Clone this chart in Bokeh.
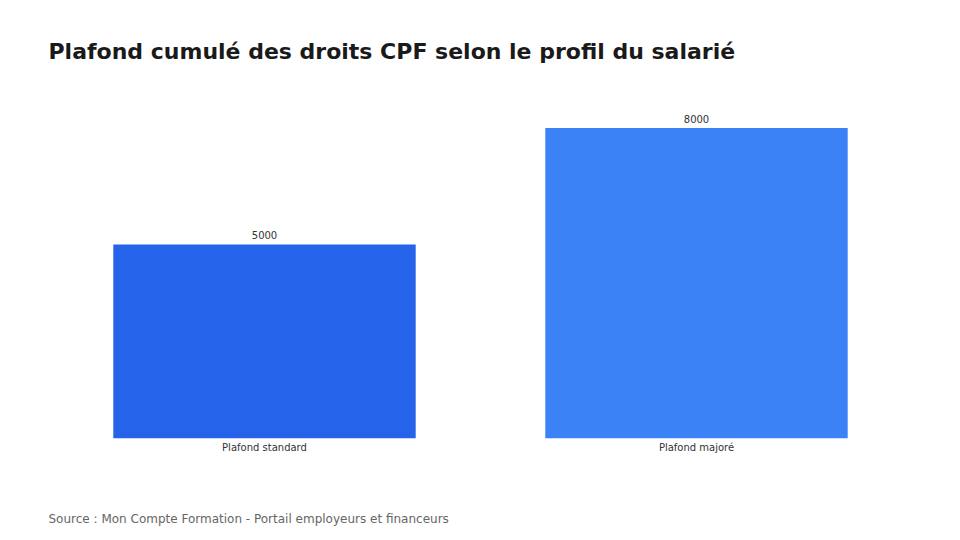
from bokeh.plotting import figure
from bokeh.models import ColumnDataSource, Title, Range1d
from bokeh.core.properties import value
from bokeh.embed import file_html
from bokeh.resources import INLINE

# data
categories = ["Plafond standard", "Plafond majoré"]
amounts = [5000, 8000]
colors = ["#2563EB", "#3B82F6"]

source = ColumnDataSource(data=dict(cat=categories, amount=amounts, color=colors,
                                    label=[str(a) for a in amounts]))

p = figure(x_range=categories, width=952, height=530,
           output_backend="svg", toolbar_location=None,
           min_border_left=48, min_border_right=40, min_border_top=82, min_border_bottom=92)
p.y_range = Range1d(0, 9170)

p.title.text = "Plafond cumulé des droits CPF selon le profil du salarié"
p.title.text_font = "DejaVu Sans"
p.title.text_font_size = "22px"
p.title.text_color = "#1a1a1a"
p.title.offset = 0
p.title.standoff = 37

# blank spacer between the category labels and the source note
spacer = Title(text=" ", text_font_size="10px", standoff=41)
p.add_layout(spacer, "below")

src_note = Title(text="Source : Mon Compte Formation - Portail employeurs et financeurs",
                 align="left", text_font="DejaVu Sans", text_font_size="12px",
                 text_color="#666666", text_font_style="normal", offset=0, standoff=0)
p.add_layout(src_note, "below")

p.vbar(x="cat", top="amount", width=0.7, color="color", line_color=None, source=source)

p.text(x="cat", y="amount", text="label", source=source, text_align="center",
       text_baseline="bottom", y_offset=-5, text_font=value("DejaVu Sans"),
       text_font_size="10px", text_color="#333333")

p.outline_line_color = None
p.xgrid.grid_line_color = None
p.ygrid.grid_line_color = None
p.yaxis.visible = False
p.xaxis.axis_line_color = None
p.xaxis.major_tick_line_color = None
p.xaxis.minor_tick_line_color = None
p.xaxis.major_tick_out = 0
p.xaxis.major_tick_in = 0
p.xaxis.major_label_text_font = "DejaVu Sans"
p.xaxis.major_label_text_font_size = "10px"
p.xaxis.major_label_text_color = "#333333"
p.xaxis.major_label_standoff = 3
p.x_range.range_padding = 0

open("out.html", "w").write(file_html(p, INLINE))
